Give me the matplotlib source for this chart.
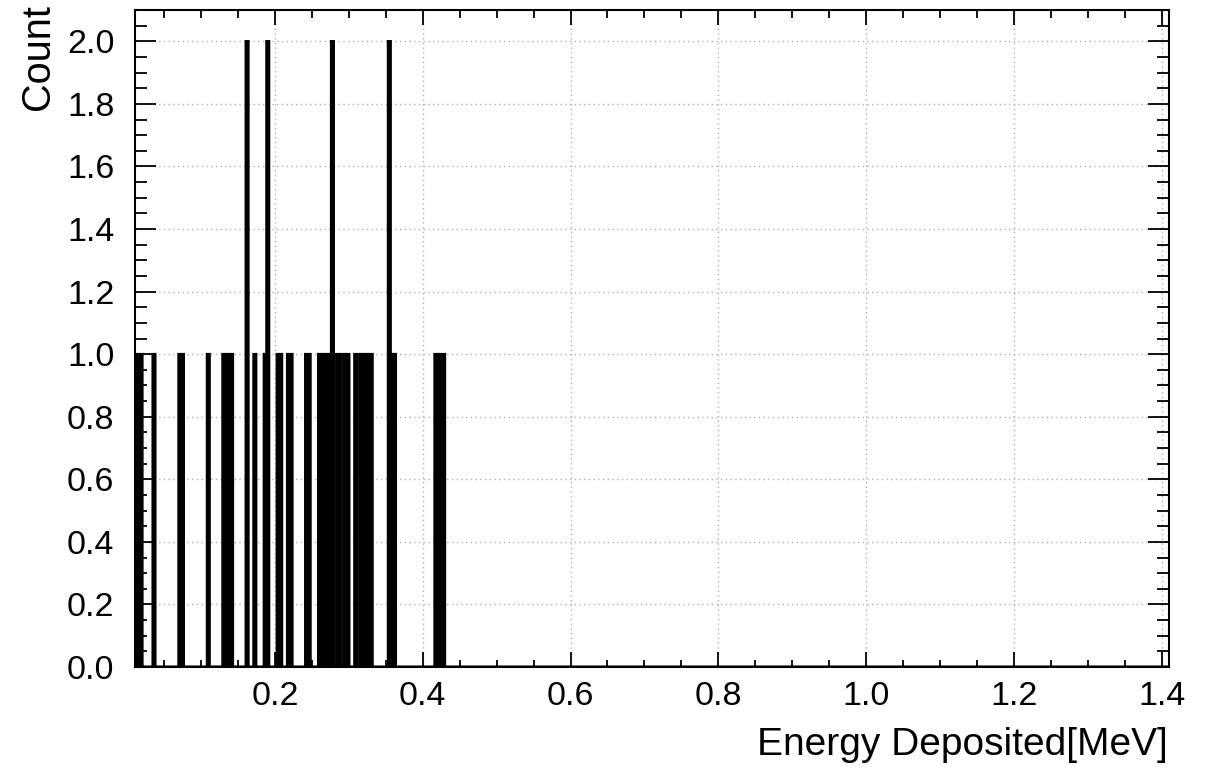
import numpy as np
import matplotlib
matplotlib.use("Agg")
import matplotlib.pyplot as plt
from matplotlib.ticker import MultipleLocator, FormatStrFormatter

# Deposited energy per event [MeV]
energies = [
    0.0153, 0.0188, 0.0362, 0.0712, 0.0748, 0.1097,
    0.1307, 0.1343, 0.1378, 0.1412, 0.1622, 0.1622, 0.1728,
    0.1868, 0.1902, 0.1902, 0.2042, 0.2078, 0.2182, 0.2218,
    0.2428, 0.2462, 0.2602, 0.2638, 0.2672, 0.2708, 0.2742,
    0.2778, 0.2778, 0.2848, 0.2882, 0.2952, 0.2988, 0.3092,
    0.3162, 0.3198, 0.3232, 0.3268, 0.3302, 0.3548, 0.3548,
    0.3582, 0.3618, 0.4178, 0.4212, 0.4248, 0.4282,
]

# Histogram binning
e_min, e_max, n_bins = 0.01, 1.41, 400
edges = np.linspace(e_min, e_max, n_bins + 1)

x_label = "Energy Deposited[MeV]"
y_label = "Count"

plt.rcParams["font.family"] = ["Liberation Sans", "DejaVu Sans"]

W, H = 1206, 768
fig = plt.figure(figsize=(W / 100, H / 100), dpi=100)
left, right, top, bottom = 134.6, 1169, 10, 667
ax = fig.add_axes([left / W, 1 - bottom / H, (right - left) / W, (bottom - top) / H])

ax.hist(energies, bins=edges, histtype="stepfilled",
        facecolor="black", edgecolor="black", linewidth=1.8, zorder=3)

ax.set_xlim(e_min, e_max)
ax.set_ylim(0, 2.1)

ax.xaxis.set_major_locator(MultipleLocator(0.2))
ax.xaxis.set_minor_locator(MultipleLocator(0.05))
ax.yaxis.set_major_locator(MultipleLocator(0.2))
ax.yaxis.set_minor_locator(MultipleLocator(0.05))
ax.xaxis.set_major_formatter(FormatStrFormatter("%.1f"))
ax.yaxis.set_major_formatter(FormatStrFormatter("%.1f"))

ax.tick_params(axis="both", which="both", direction="in",
               top=True, right=True, width=1.3, color="black")
ax.tick_params(axis="x", which="major", length=10.8, pad=10, labelsize=24.5)
ax.tick_params(axis="x", which="minor", length=5.4)
ax.tick_params(axis="y", which="major", length=15, pad=14.5, labelsize=24.5)
ax.tick_params(axis="y", which="minor", length=8.6)

for s in ax.spines.values():
    s.set_linewidth(1.5)
    s.set_zorder(4)

ax.grid(True, which="major", color="#b0b0b0", linestyle=(0, (1, 2.4)),
        linewidth=1.0, zorder=1)
ax.set_axisbelow(True)

fig.text(1168 / W, 1 - 755 / H, x_label, ha="right", va="baseline", fontsize=28)
fig.text(38 / W, 1 - 4 / H, y_label, ha="center", va="top", rotation=90, fontsize=28.5)

fig.savefig("out.png", dpi=100)
